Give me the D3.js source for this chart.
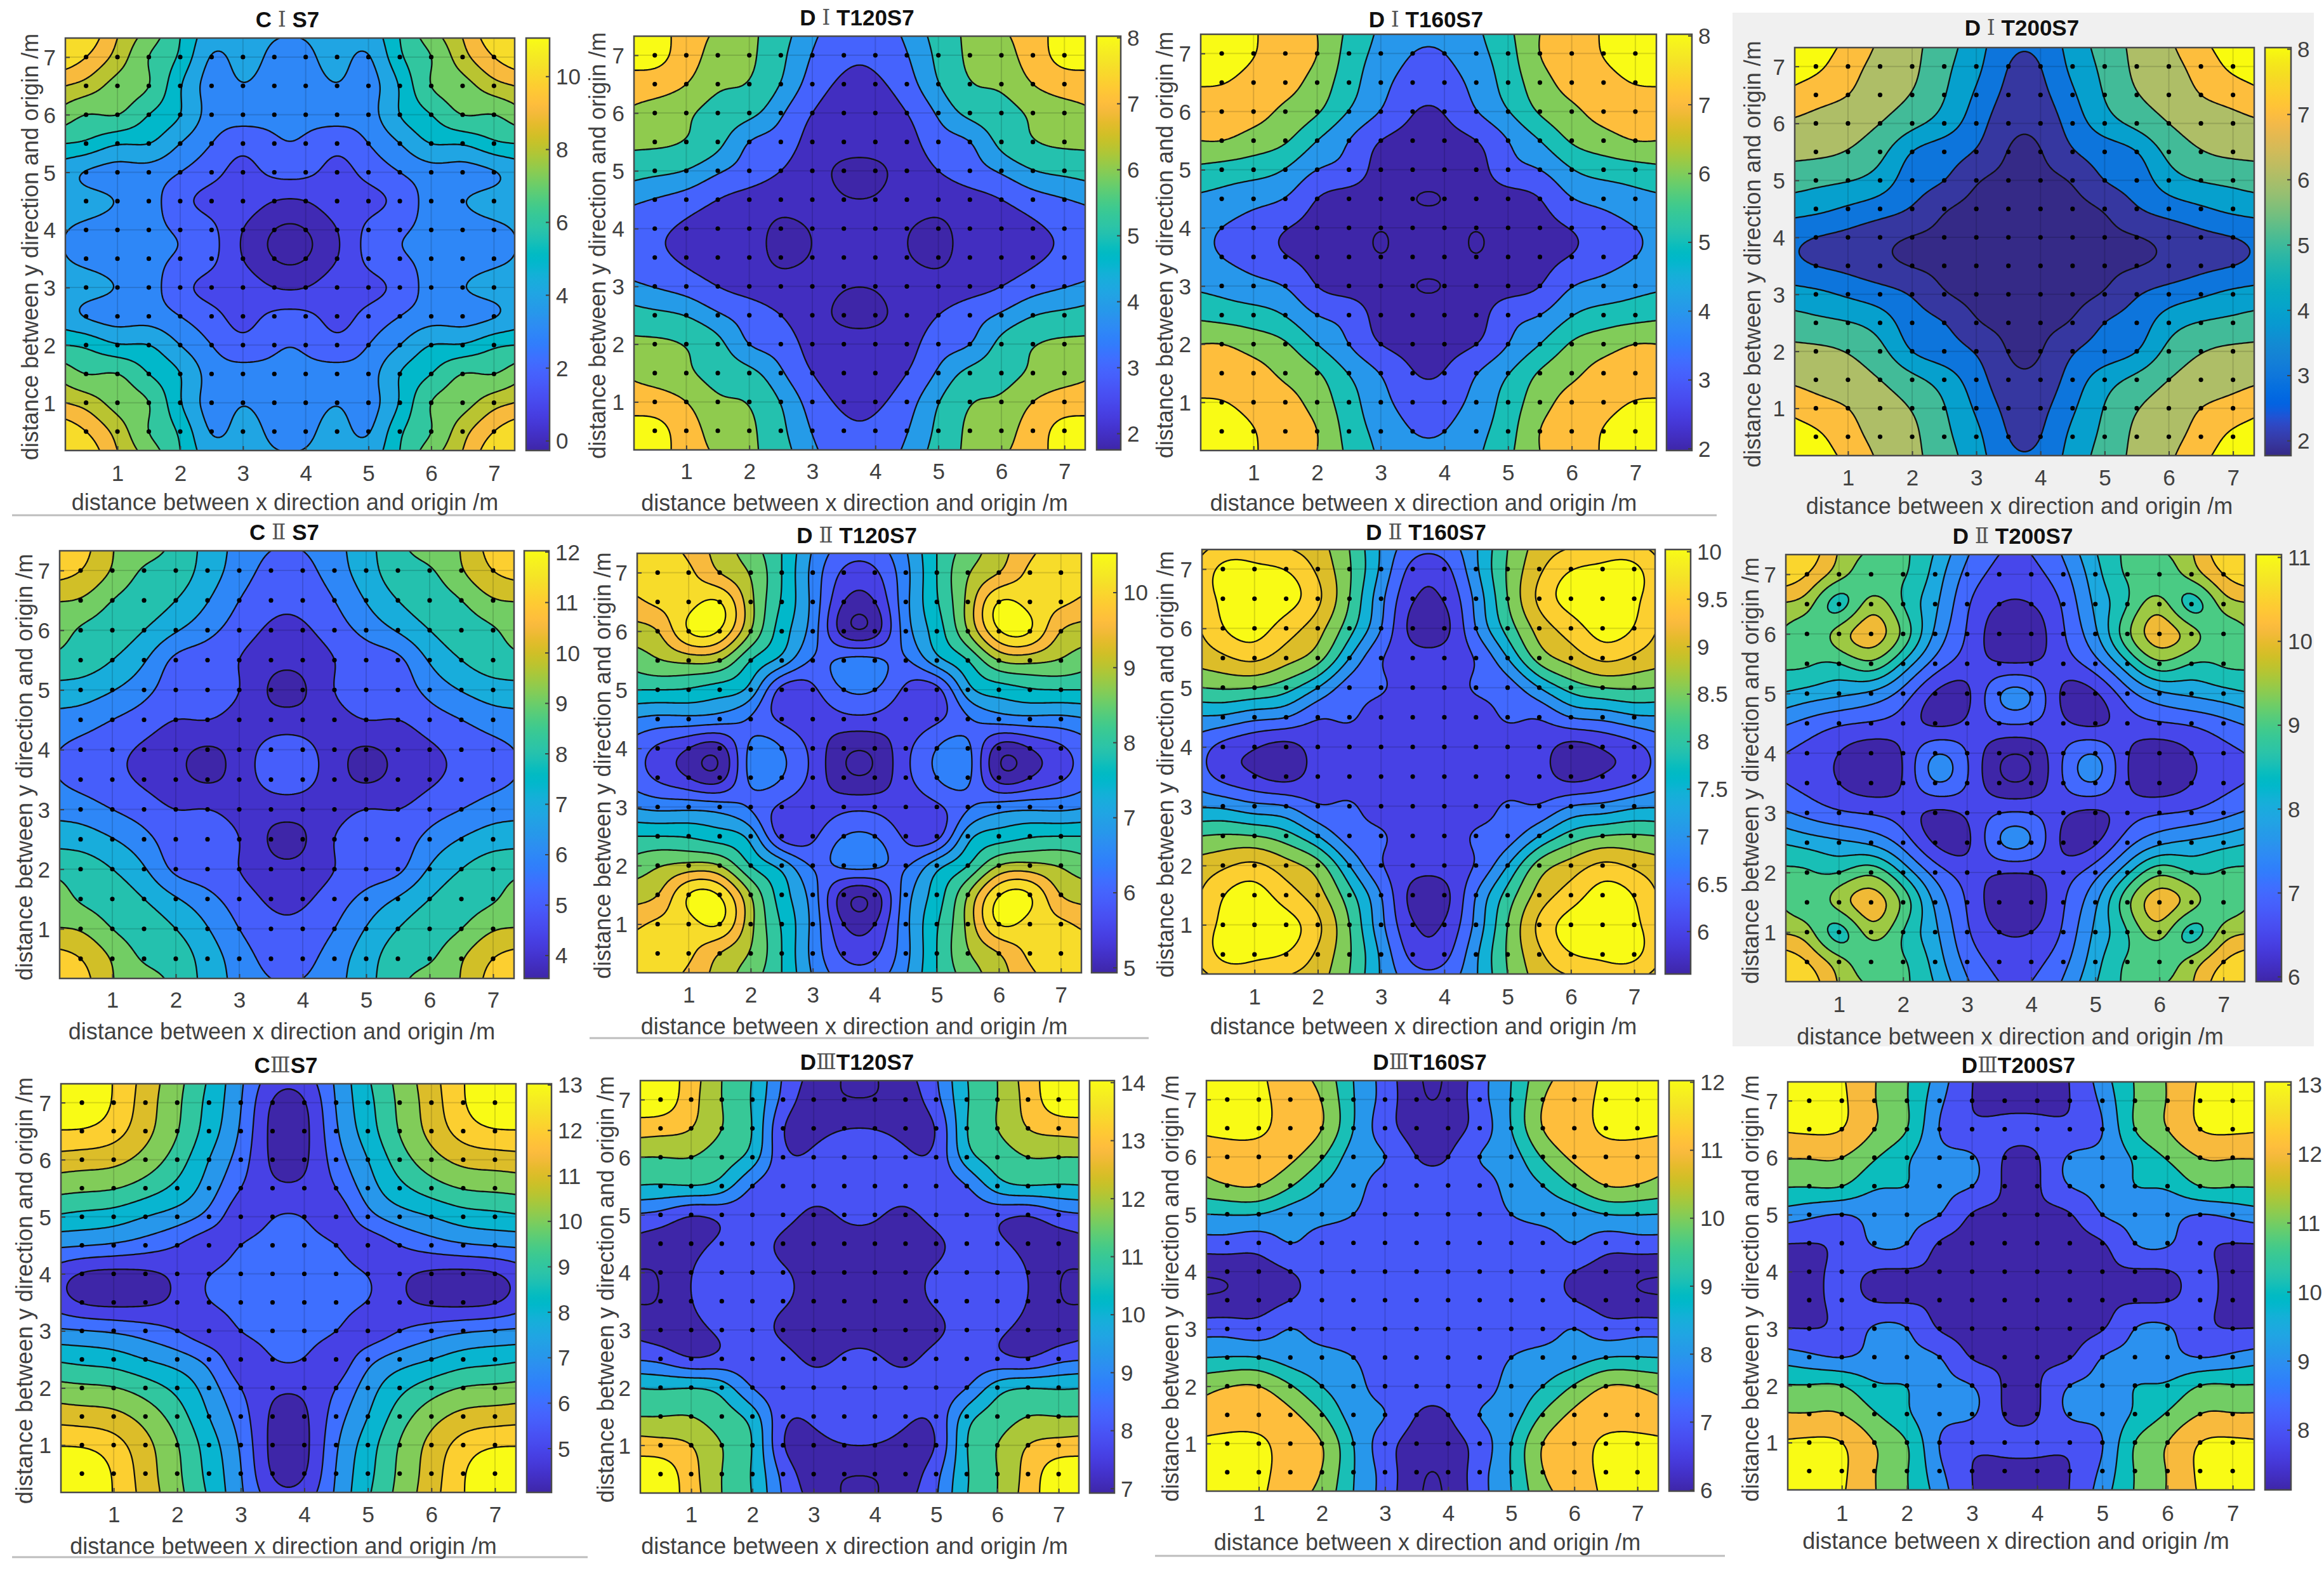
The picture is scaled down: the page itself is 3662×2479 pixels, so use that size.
<!DOCTYPE html>
<html><head><meta charset="utf-8">
<script src="https://cdnjs.cloudflare.com/ajax/libs/d3/7.8.5/d3.min.js"></script>
<style>html,body{margin:0;padding:0;background:#fff}svg{display:block}text{font-family:"Liberation Sans",Arial,sans-serif}</style>
</head><body><svg id="fig" width="3662" height="2479"></svg>
<script>
// ---------- colour tables ----------
const parulaNew=[[.2422,.1504,.6603],[.2504,.165,.7076],[.2578,.1818,.7511],[.2647,.1978,.7952],[.2706,.2147,.8364],[.2751,.2342,.871],[.2783,.2559,.8991],[.2803,.2782,.9221],[.2813,.3006,.9414],[.281,.3228,.9579],[.2795,.3447,.9717],[.276,.3667,.9829],[.2699,.3892,.9906],[.2602,.4123,.9952],[.244,.4358,.9988],[.2206,.4603,.9973],[.1963,.4847,.9892],[.1834,.5074,.9798],[.1786,.5289,.9682],[.1764,.5499,.952],[.1687,.5703,.9359],[.154,.5902,.9218],[.146,.6091,.9079],[.138,.6276,.8973],[.1248,.6459,.8883],[.1113,.6635,.8763],[.0952,.6798,.8598],[.0689,.6948,.8394],[.0297,.7082,.8163],[.0036,.7203,.7917],[.0067,.7312,.766],[.0433,.7411,.7394],[.0964,.75,.712],[.1408,.7584,.6842],[.1717,.767,.6554],[.1938,.7758,.6251],[.2161,.7843,.5923],[.247,.7918,.5567],[.2906,.7973,.5188],[.3406,.8008,.4789],[.3909,.8029,.4354],[.4456,.8024,.3909],[.5044,.7993,.348],[.5616,.7942,.3045],[.6174,.7876,.2612],[.672,.7793,.2227],[.7242,.7698,.191],[.7738,.7598,.1646],[.8203,.7498,.1535],[.8634,.7406,.1596],[.9035,.733,.1774],[.9393,.7288,.21],[.9728,.7298,.2394],[.9956,.7434,.2371],[.997,.7659,.2199],[.9952,.7893,.2028],[.9892,.8136,.1885],[.9786,.8386,.1766],[.9676,.8639,.1643],[.961,.889,.1537],[.9597,.9135,.1423],[.9628,.9373,.1265],[.9691,.9606,.1064],[.9769,.9839,.0805]];
const parulaOld=[[.2081,.1663,.5292],[.2116,.1898,.5777],[.2123,.2138,.627],[.2081,.2386,.6771],[.1959,.2645,.7279],[.1707,.2919,.7792],[.1253,.3242,.8303],[.0591,.3598,.8683],[.0117,.3875,.882],[.006,.4086,.8828],[.0165,.4266,.8786],[.0329,.443,.872],[.0498,.4586,.8641],[.0629,.4737,.8554],[.0723,.4887,.8467],[.0779,.504,.8384],[.0793,.52,.8312],[.0749,.5375,.8263],[.0641,.557,.824],[.0488,.5772,.8228],[.0343,.5966,.8199],[.0265,.6137,.8135],[.0239,.6287,.8038],[.0231,.6418,.7913],[.0228,.6535,.7768],[.0267,.6642,.7607],[.0384,.6743,.7436],[.059,.6838,.7254],[.0843,.6928,.7062],[.1133,.7015,.6859],[.1453,.7098,.6646],[.1801,.7177,.6424],[.2178,.725,.6193],[.2586,.7317,.5954],[.3022,.7376,.5712],[.3482,.7424,.5473],[.3953,.7459,.5244],[.442,.7481,.5033],[.4871,.7491,.484],[.53,.7491,.4661],[.5709,.7485,.4494],[.6099,.7473,.4337],[.6473,.7456,.4188],[.6834,.7435,.4044],[.7184,.7411,.3905],[.7525,.7384,.3768],[.7858,.7356,.3633],[.8185,.7327,.3498],[.8507,.7299,.336],[.8824,.7274,.3217],[.9139,.7258,.3063],[.945,.7261,.2886],[.9739,.7314,.2666],[.9938,.7455,.2403],[.999,.7653,.2164],[.9955,.7861,.1967],[.988,.8066,.1794],[.9789,.8271,.1633],[.9697,.8481,.1475],[.9626,.8705,.1309],[.9589,.8949,.1132],[.9598,.9218,.0948],[.9661,.9514,.0755],[.9763,.9831,.0538]];

// ---------- measurement grid (metres) ----------
const gridPositions=[.5,1,1.5,2,2.5,3,3.5,4,4.5,5,5.5,6,6.5,7];
const axisTicks=[1,2,3,4,5,6,7];
const xDomain=[.17,7.33];
// nodes from the plot edge to the last row before the centre line; the layouts are mirror symmetric
const nodes=[.17,.5,1,1.5,2,2.5,3,3.5,4,4.5,5,5.5,6,6.5,7,7.33];

// ---------- values (one triangular octant per panel) ----------
const CIS7=[[11],[10.6,10],[9,8.6,7.6],[7.5,7,7,6],[6,5.8,5.1,5,4],[4.4,3.95,3.7,3.6,3,2.3],[4.4,4.3,3.95,3.4,2.35,1.75,1.6],[4.05,3.75,3.5,3.25,2.85,2.2,1,0]];
const DIT120S7=[[8.8],[8.5,8.3],[7.5,7.5,7],[6.85,6.6,6.15,5.7],[6.2,6.15,5.95,5.3,4],[5.4,5.25,4.95,4.15,3.55,3],[4.2,3.95,3.55,3,2.6,2.3,2.25],[3.4,3.2,2.85,2.5,2.25,1.9,2.05,2.3]];
const DIT160S7=[[8.8],[8.4,8.5],[8.1,8.05,7.6],[7.3,7.4,7.3,6.8],[7,7,6.6,6.1,5],[5.75,5.6,5.4,4.95,4,3.6],[4.85,4.7,4.35,3.95,3,2.6,2.4],[4.3,4,3.55,3.05,2.7,2.35,2.03,2.25]];
const DIT200S7=[[8.8],[8.5,8.2],[7.7,7.4,7],[6.85,6.7,6.4,6],[6.25,6.2,5.95,5.3,4],[5.4,5.25,5.05,4.5,3.5,3],[4.4,4.25,3.85,3.45,2.9,2.1,1.8],[3.25,3,2.75,2.35,1.97,1.85,1.78,1.8]];
const CIIS7=[[11.8],[11.4,11],[10.05,9.9,9],[9.4,8.9,8.5,8],[8.7,8.5,8,7.1,5.8],[7.65,7.55,7.05,6.3,5.5,5.4],[6.65,6.5,6,5.5,5,5,4.6],[6,5.7,5.3,4.85,4.35,3.9,4.45,5.3]];
const DIIT120S7=[[10.4],[10.3,10.3],[9.9,10.1,10.3],[9.3,9.5,10.5,10.45],[8.75,8.95,9.15,9,8],[8,8,7.95,7.75,7.3,5.85],[6.95,6.85,6.85,6.75,6.45,5.9,5.7],[6.25,5.92,5.5,5.3,6.6,6.5,5.85,5.15]];
const DIIT160S7=[[9.4],[9.7,10.1],[9.75,10.1,10.3],[9.55,9.97,10.2,9.75],[9.2,9.4,9.6,9.2,8.7],[8.5,8.55,8.5,8.2,7.5,6.75],[7.45,7.4,7.15,7,6.55,6.55,6.25],[6.7,6.35,6.05,5.85,6.2,6.2,6.25,6.25]];
const DIIT200S7=[[11],[10.8,10.5],[9.95,9.7,8.85],[9.4,9.2,9.7,10.25],[9.1,9.05,9,9.35,8.4],[8.45,8.3,8.1,7.9,7.3,6.45],[7.55,7.35,7.08,6.95,6.75,6.42,6.6],[7,6.85,6.5,6.2,6.55,7.45,6.98,6.15]];
const CIIIS7=[[14],[13.8,13.7],[12.95,12.9,12.4],[11.6,11.5,11.3,10.6],[10.3,10.2,10.05,9.5,8.7],[8.85,8.7,8.5,8,7.5,6.6],[7.15,7.05,6.85,6.5,6,5.5,6],[5.45,4.95,4.75,4.85,5.25,5.95,6.4,6.6]];
const DIIIT120S7=[[15],[14.6,14.5],[13.5,13.4,13],[12,12,12,11.5],[10.95,10.9,10.95,10.5,9],[8.9,8.7,8.1,8.3,8.4,8.3],[7.65,7.48,7.7,8.17,8.3,7.85,7.5],[6.95,7.08,7.97,8.25,8.3,8.1,7.6,7.3]];
const DIIIT160S7=[[12.8],[12.6,12.7],[12.2,12.3,12.2],[11.4,11.55,11.55,11.2],[10.7,10.95,11,10.1,9],[9,9.05,9,8.55,8.35,8],[7.6,7.6,7.48,8,7.55,7.4,7.3],[6.15,6.22,6.52,7,7.35,7.32,7.25,7.2]];
const DIIIT200S7=[[13.9],[13.6,13.8],[13.1,13.2,13],[12.05,12.05,12,11.1],[11.05,11.05,11,10.15,9.98],[9.5,9.25,8.98,9.3,9.3,9],[8.02,8,8.25,9.1,9,7.95,7.75],[7.78,7.75,8.25,7.95,7.9,7.85,7.65,7.6]];

// ---------- contour levels, colour limits, colourbar ticks ----------
const levelsCI=[0,1,2,3,4,5,6,7,8,9,10];
const levelsDI=[2,3,4,5,6,7,8];
const levelsCII=[4,5,6,7,8,9,10,11];
const levelsDIIa=[5,5.5,6,6.5,7,7.5,8,8.5,9,9.5,10,10.5];
const levelsDIIb=[6,6.5,7,7.5,8,8.5,9,9.5,10];
const levelsDIIc=[6,6.5,7,7.5,8,8.5,9,9.5,10,10.5];
const levelsCIII=[5,6,7,8,9,10,11,12,13];
const levelsDIIIa=[7,8,9,10,11,12,13,14];
const levelsDIIIb=[6,7,8,9,10,11,12];
const levelsDIIIc=[8,9,10,11,12,13];
const ticksCI=[0,2,4,6,8,10], ticksDI=[2,3,4,5,6,7,8], ticksCII=[4,5,6,7,8,9,10,11,12], ticksDIIa=[5,6,7,8,9,10],
      ticksDIIb=[6,6.5,7,7.5,8,8.5,9,9.5,10], ticksDIIc=[6,7,8,9,10,11], ticksCIII=[5,6,7,8,9,10,11,12,13],
      ticksDIIIa=[7,8,9,10,11,12,13,14], ticksDIIIb=[6,7,8,9,10,11,12], ticksDIIIc=[8,9,10,11,12,13];

// ---------- page layout ----------
// plot box [x0,y0,x1,y1], colourbar box [x0,x1], offsets [title, xticks, xlabel, ylabel]
const panels=[
 {t:["C ","Ⅰ"," S7"],v:CIS7,l:levelsCI,k:ticksCI,c:[-.27,11.05],b:[103,60,811,710],cb:[829,866],o:[30,35,81,56]},
 {t:["D ","Ⅰ"," T120S7"],v:DIT120S7,l:levelsDI,k:ticksDI,c:[1.75,8.02],b:[999,57,1710,709],cb:[1728,1766],o:[30,33,83,58]},
 {t:["D ","Ⅰ"," T160S7"],v:DIT160S7,l:levelsDI,k:ticksDI,c:[1.97,8.02],b:[1892,54,2610,710],cb:[2626,2666],o:[24,34,82,57]},
 {t:["D ","Ⅰ"," T200S7"],v:DIT200S7,l:levelsDI,k:ticksDI,c:[1.77,8.02],b:[2828,75,3552,718],cb:[3569,3610],o:[32,34,79,67],old:true},
 {t:["C ","Ⅱ"," S7"],v:CIIS7,l:levelsCII,k:ticksCII,c:[3.54,12.02],b:[94,868,810,1542],cb:[826,865],o:[30,33,83,56]},
 {t:["D ","Ⅱ"," T120S7"],v:DIIT120S7,l:levelsDIIa,k:ticksDIIa,c:[4.93,10.52],b:[1004,872,1704,1533],cb:[1720,1760],o:[29,34,84,55]},
 {t:["D ","Ⅱ"," T160S7"],v:DIIT160S7,l:levelsDIIb,k:ticksDIIb,c:[5.55,10.02],b:[1894,866,2608,1535],cb:[2624,2664],o:[28,35,82,58]},
 {t:["D ","Ⅱ"," T200S7"],v:DIIT200S7,l:levelsDIIc,k:ticksDIIc,c:[5.94,11.03],b:[2814,874,3537,1547],cb:[3555,3595],o:[30,35,86,56]},
 {t:["C","Ⅲ","S7"],v:CIIIS7,l:levelsCIII,k:ticksCIII,c:[4.03,13.02],b:[96,1708,813,2352],cb:[830,869],o:[30,34,84,58]},
 {t:["D","Ⅲ","T120S7"],v:DIIIT120S7,l:levelsDIIIa,k:ticksDIIIa,c:[6.92,14.03],b:[1009,1703,1700,2353],cb:[1717,1756],o:[30,33,83,55]},
 {t:["D","Ⅲ","T160S7"],v:DIIIT160S7,l:levelsDIIIb,k:ticksDIIIb,c:[5.98,12.02],b:[1901,1703,2613,2350],cb:[2630,2669],o:[30,34,80,57]},
 {t:["D","Ⅲ","T200S7"],v:DIIIT200S7,l:levelsDIIIc,k:ticksDIIIc,c:[7.13,13.04],b:[2817,1705,3552,2348],cb:[3569,3610],o:[27,36,80,59]}
];
const separators=[[19,812,2705,812],[929,1636,1810,1636],[19,2454,926,2454],[1820,2452,2718,2452]];
const xLabel="distance between x direction and origin /m", yLabel="distance between y direction and origin /m";
const FONT=35, LABEL=36, TITLE=35, N=220, inkColor="#404040";

// ---------- helpers ----------
function spline(xs,ys){ // natural cubic spline through the read values
  const n=xs.length,u=new Array(n).fill(0),d=new Array(n).fill(0);
  for(let i=1;i<n-1;i++){
    const s=(xs[i]-xs[i-1])/(xs[i+1]-xs[i-1]),p=s*d[i-1]+2;
    d[i]=(s-1)/p;
    const g=(ys[i+1]-ys[i])/(xs[i+1]-xs[i])-(ys[i]-ys[i-1])/(xs[i]-xs[i-1]);
    u[i]=(6*g/(xs[i+1]-xs[i-1])-s*u[i-1])/p;
  }
  for(let i=n-2;i>=0;i--)d[i]=d[i]*d[i+1]+u[i];
  return x=>{
    let k=Math.min(n-2,Math.max(0,d3.bisectRight(xs,x)-1));
    const h=xs[k+1]-xs[k],a=(xs[k+1]-x)/h,b=(x-xs[k])/h;
    return a*ys[k]+b*ys[k+1]+((a*a*a-a)*d[k]+(b*b*b-b)*d[k+1])*h*h/6;
  };
}
function expand(tri){ // octant -> full table on `nodes`
  const q=(i,j)=>i>=j?tri[i][j]:tri[j][i], m=i=>i<8?i:15-i;
  return nodes.map((_,j)=>nodes.map((_,i)=>q(m(i),m(j))));
}
function surface(tri){
  const tbl=expand(tri), fine=d3.range(N).map(i=>xDomain[0]+(xDomain[1]-xDomain[0])*i/(N-1));
  const rows=tbl.map(r=>{const f=spline(nodes,r);return fine.map(f);});
  const out=new Float64Array(N*N);
  for(let i=0;i<N;i++){
    const f=spline(nodes,rows.map(r=>r[i]));
    for(let j=0;j<N;j++)out[j*N+i]=f(fine[j]);
  }
  return out;
}
const rgb=c=>`rgb(${c.map(v=>Math.round(v*255)).join(",")})`;

// ---------- drawing ----------
const svg=d3.select("#fig");
const defs=svg.append("defs");
svg.append("rect").attr("width",3662).attr("height",2479).attr("fill","#fff");
svg.append("rect").attr("x",2730).attr("y",20).attr("width",916).attr("height",1629).attr("fill","#f0f0f0");
svg.selectAll("line.sep").data(separators).join("line").attr("class","sep")
  .attr("x1",d=>d[0]).attr("y1",d=>d[1]).attr("x2",d=>d[2]).attr("y2",d=>d[3])
  .attr("stroke","#bdbdbd").attr("stroke-width",3);

[["gNew",parulaNew],["gOld",parulaOld]].forEach(([id,tab])=>{
  const g=defs.append("linearGradient").attr("id",id).attr("x1",0).attr("y1",1).attr("x2",0).attr("y2",0);
  tab.forEach((c,i)=>g.append("stop").attr("offset",i/63).attr("stop-color",rgb(c)));
});

panels.forEach((p,idx)=>{
  const [x0,y0,x1,y1]=p.b, tab=p.old?parulaOld:parulaNew;
  const x=d3.scaleLinear().domain(xDomain).range([x0,x1]);
  const y=d3.scaleLinear().domain(xDomain).range([y1,y0]);
  const cS=d3.scaleLinear().domain(p.c).range([0,1]).clamp(true);
  const col=v=>rgb(tab[Math.min(63,Math.floor(cS(v)*64))]);
  const g=svg.append("g");
  defs.append("clipPath").attr("id","clip"+idx).append("rect").attr("x",x0).attr("y",y0).attr("width",x1-x0).attr("height",y1-y0);

  // contour bands
  const values=surface(p.v);
  const dx=(xDomain[1]-xDomain[0])/(N-1);
  const proj=d3.geoTransform({point(a,b){this.stream.point(x(xDomain[0]+(a-.5)*dx),y(xDomain[0]+(b-.5)*dx));}});
  const path=d3.geoPath(proj);
  const bands=d3.contours().size([N,N]).thresholds(p.l)(values);
  const plot=g.append("g").attr("clip-path",`url(#clip${idx})`);
  plot.append("rect").attr("x",x0).attr("y",y0).attr("width",x1-x0).attr("height",y1-y0).attr("fill",col(p.c[0]));
  plot.selectAll("path").data(bands).join("path").attr("d",path)
    .attr("fill",d=>col(d.value)).attr("stroke","#111").attr("stroke-width",2.3).attr("stroke-linejoin","round");

  // grid
  plot.selectAll("line.gx").data(axisTicks).join("line").attr("class","gx").attr("x1",d=>x(d)).attr("x2",d=>x(d)).attr("y1",y0).attr("y2",y1)
    .attr("stroke","#000").attr("stroke-opacity",.14).attr("stroke-width",2);
  plot.selectAll("line.gy").data(axisTicks).join("line").attr("class","gy").attr("y1",d=>y(d)).attr("y2",d=>y(d)).attr("x1",x0).attr("x2",x1)
    .attr("stroke","#000").attr("stroke-opacity",.14).attr("stroke-width",2);

  // measuring points
  const pts=d3.cross(gridPositions,gridPositions);
  plot.selectAll("circle").data(pts).join("circle").attr("cx",d=>x(d[0])).attr("cy",d=>y(d[1])).attr("r",3.6).attr("fill","#000");

  // axes
  const ax=g.append("g").attr("transform",`translate(0,${y1})`).call(d3.axisBottom(x).tickValues(axisTicks).tickSize(-7).tickPadding(0));
  const ay=g.append("g").attr("transform",`translate(${x0},0)`).call(d3.axisLeft(y).tickValues(axisTicks).tickSize(-7).tickPadding(15));
  [ax,ay].forEach(a=>{a.select(".domain").remove();a.selectAll("line").attr("stroke",inkColor).attr("stroke-width",2);
    a.selectAll("text").attr("font-size",FONT).attr("fill",inkColor).attr("font-family",'"Liberation Sans",Arial,sans-serif');});
  ax.selectAll("text").attr("dy",null).attr("y",p.o[1]).attr("dominant-baseline","central");
  ay.selectAll("text").attr("dy",null).attr("dominant-baseline","central");
  g.append("rect").attr("x",x0).attr("y",y0).attr("width",x1-x0).attr("height",y1-y0).attr("fill","none").attr("stroke","#4a4a4a").attr("stroke-width",2.5);

  // labels
  g.append("text").attr("x",(x0+x1)/2-8).attr("y",y1+p.o[2]).attr("text-anchor","middle").attr("dominant-baseline","central")
    .attr("font-size",LABEL).attr("fill",inkColor).text(xLabel);
  g.append("text").attr("transform",`translate(${x0-p.o[3]},${(y0+y1)/2+4}) rotate(-90)`).attr("text-anchor","middle").attr("dominant-baseline","central")
    .attr("font-size",LABEL).attr("fill",inkColor).text(yLabel);
  const tt=g.append("text").attr("x",(x0+x1)/2-4).attr("y",y0-p.o[0]).attr("text-anchor","middle").attr("dominant-baseline","central").attr("font-size",TITLE).attr("font-weight","700").attr("fill","#111");
  tt.append("tspan").text(p.t[0]);
  tt.append("tspan").text(p.t[1]).attr("font-family",'"DejaVu Serif"').attr("font-weight",400).attr("fill","#555").attr("font-size",TITLE-2);
  tt.append("tspan").text(p.t[2]);

  // colourbar
  const [cx0,cx1]=p.cb;
  const cy=d3.scaleLinear().domain(p.c).range([y1,y0]);
  g.append("rect").attr("x",cx0).attr("y",y0).attr("width",cx1-cx0).attr("height",y1-y0).attr("fill",`url(#${p.old?"gOld":"gNew"})`).attr("stroke","#4a4a4a").attr("stroke-width",2.5);
  const ac=g.append("g").attr("transform",`translate(${cx1},0)`).call(d3.axisRight(cy).tickValues(p.k).tickFormat(d3.format("~g")).tickSize(-6).tickPadding(10));
  ac.select(".domain").remove();
  ac.selectAll("line").attr("stroke",inkColor).attr("stroke-width",2);
  ac.selectAll("text").attr("dy",null).attr("dominant-baseline","central").attr("font-size",FONT).attr("fill",inkColor).attr("font-family",'"Liberation Sans",Arial,sans-serif');
});
</script></body></html>
